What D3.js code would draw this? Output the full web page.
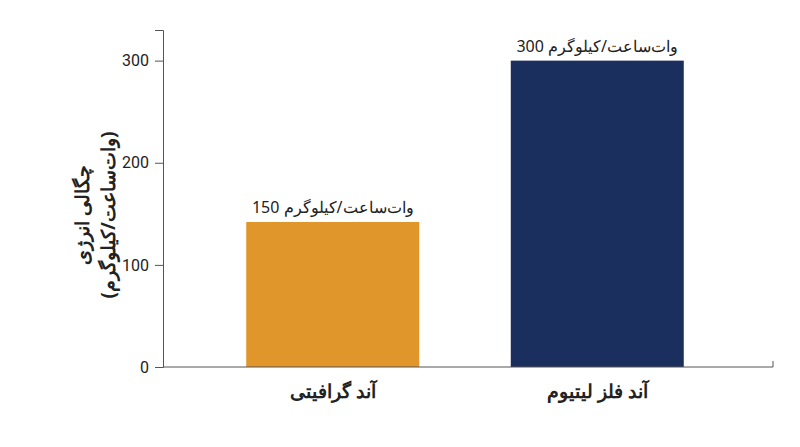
<!DOCTYPE html>
<html><head><meta charset="utf-8">
<script src="https://cdn.jsdelivr.net/npm/d3@7"></script>
<style>body{margin:0;background:#fff}text{font-family:"Noto Sans",Roboto,sans-serif}</style>
</head><body><svg id="c" width="800" height="447"></svg>
<script>
const categories = ["آند گرافیتی", "آند فلز لیتیوم"];
const values = [142, 300];
const valueLabels = ["150 وات‌ساعت/کیلوگرم", "300 وات‌ساعت/کیلوگرم"];
const yTicks = [0, 100, 200, 300];
const colors = ["#E0962A", "#1B2F5E"];

const svg = d3.select("#c");
const x = d3.scaleBand().domain(categories).range([160, 770]).paddingInner(0.346).paddingOuter(0.326);
const y = d3.scaleLinear().domain([0, 330]).range([367, 30]);

svg.selectAll("rect.bar").data(values).join("rect")
  .attr("x", (d,i)=>x(categories[i])).attr("width", x.bandwidth())
  .attr("y", d=>y(d)).attr("height", d=>y(0)-y(d)).attr("fill",(d,i)=>colors[i]);

const ya = svg.append("g").attr("transform","translate(163,0)")
  .call(d3.axisLeft(y).tickValues(yTicks).tickSize(8).tickPadding(6));
ya.selectAll("text").attr("font-size",16).attr("fill","#222").style("font-family","Roboto");
ya.selectAll("line,path").attr("stroke","#555");

const xa = svg.append("g").attr("transform","translate(0,367)");
xa.append("line").attr("x1",163).attr("x2",773).attr("stroke","#555");
xa.append("line").attr("x1",773).attr("x2",773).attr("y1",-6).attr("y2",0).attr("stroke","#555");

svg.selectAll("text.cat").data(categories).join("text")
  .attr("x", d=>x(d)+x.bandwidth()/2).attr("y",398).attr("text-anchor","middle")
  .attr("font-size",19).attr("font-weight","bold").attr("fill","#222").text(d=>d);

svg.selectAll("text.val").data(values).join("text")
  .attr("x",(d,i)=>x(categories[i])+x.bandwidth()/2).attr("y",d=>y(d)-9)
  .attr("text-anchor","middle").attr("font-size",16).attr("fill","#222")
  .text((d,i)=>valueLabels[i]);

const t = svg.append("text").attr("transform","translate(95,215) rotate(-90)")
  .attr("text-anchor","middle").attr("font-size",19).attr("font-weight","bold").attr("fill","#222");
t.append("tspan").attr("x",0).attr("dy",-6).text("چگالی انرژی");
t.append("tspan").attr("x",0).attr("dy",26).text("(وات‌ساعت/کیلوگرم)");
</script></body></html>
